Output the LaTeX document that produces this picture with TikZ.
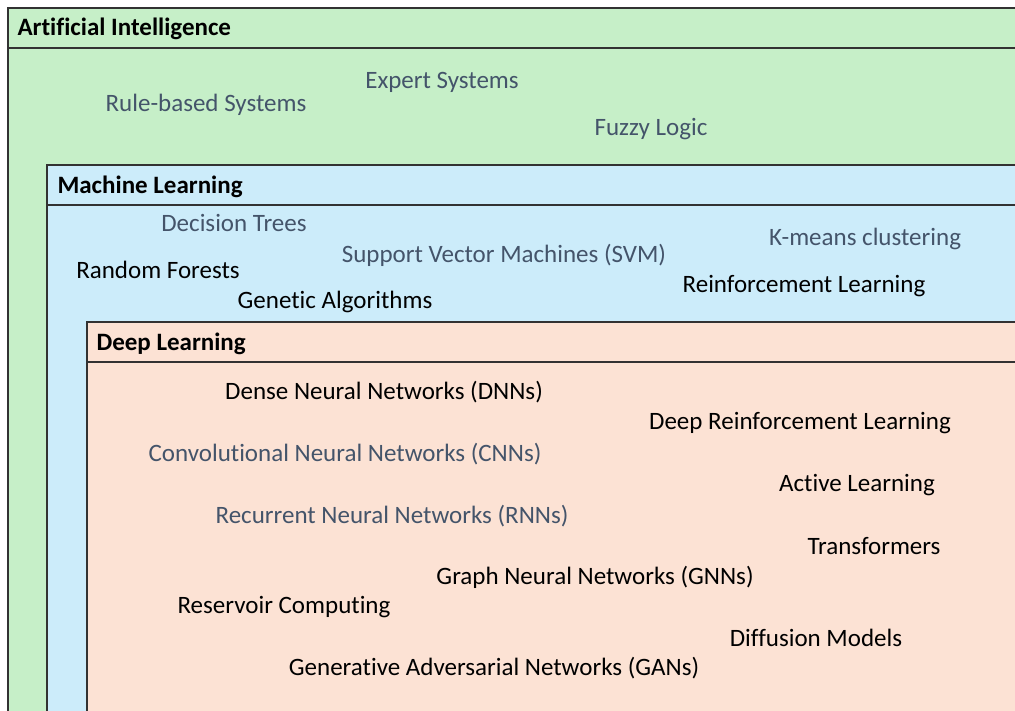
\documentclass[tikz,border=0pt]{standalone}
\usepackage{fontspec}
\setmainfont{Carlito}[Ligatures=NoCommon]
\usepackage{xcolor}
\usetikzlibrary{positioning}

\definecolor{aigreen}{RGB}{198,239,200}
\definecolor{mlblue}{RGB}{204,236,250}
\definecolor{dlpeach}{RGB}{252,226,212}
\definecolor{slate}{RGB}{68,84,106}
\definecolor{edge}{RGB}{50,50,50}

\begin{document}
\begin{tikzpicture}[x=1pt, y=-1pt,
    area/.style={draw=edge, line width=1.8pt},
    band/.style={draw=edge, line width=1.2pt},
    title/.style={anchor=west, font=\fontsize{25}{28}\selectfont\bfseries},
    term/.style={font=\fontsize{25}{28}\selectfont, text=black},
    softterm/.style={term, text=slate}]
    \useasboundingbox (0,0) rectangle (1015,710);
    \clip (0,0) rectangle (1015,710);
    % nested areas
    \filldraw[area, fill=aigreen] (8,8) rectangle (1030,730);
    \draw[band] (8,48) -- (1030,48);
    \filldraw[area, fill=mlblue] (47,165) rectangle (1030,730);
    \draw[band] (47,205) -- (1030,205);
    \filldraw[area, fill=dlpeach] (87,322) rectangle (1030,730);
    \draw[band] (87,362) -- (1030,362);
    % titles
    \node[title] (ai) at (14,29) {Artificial Intelligence};
    \node[title] (ml) at (54,187) {Machine Learning};
    \node[title] (dl) at (93,344) {Deep Learning};
    % artificial intelligence
    \node[softterm] (expert) at (442,82) {Expert Systems};
    \node[softterm] (rules) at (206,105) {Rule-based Systems};
    \node[softterm] (fuzzy) at (651,129) {Fuzzy Logic};
    % machine learning
    \node[softterm] (trees) at (234,223) {Decision Trees};
    \node[softterm] (svm) at (504,255) {Support Vector Machines (SVM)};
    \node[softterm] (kmeans) at (865,239) {K-means clustering};
    \node[term] (forests) at (158,270) {Random Forests};
    \node[term] (rl) at (804,286) {Reinforcement Learning};
    \node[term] (genetic) at (335,302) {Genetic Algorithms};
    % deep learning
    \node[term] (dnn) at (384,392) {Dense Neural Networks (DNNs)};
    \node[term] (drl) at (800,423) {Deep Reinforcement Learning};
    \node[softterm] (cnn) at (345,454) {Convolutional Neural Networks (CNNs)};
    \node[term] (active) at (857,485) {Active Learning};
    \node[softterm] (rnn) at (392,516) {Recurrent Neural Networks (RNNs)};
    \node[term] (transf) at (874,546) {Transformers};
    \node[term] (gnn) at (595,577) {Graph Neural Networks (GNNs)};
    \node[term] (reservoir) at (284,607) {Reservoir Computing};
    \node[term] (diffusion) at (816,638) {Diffusion Models};
    \node[term] (gan) at (494,668) {Generative Adversarial Networks (GANs)};
\end{tikzpicture}
\end{document}
